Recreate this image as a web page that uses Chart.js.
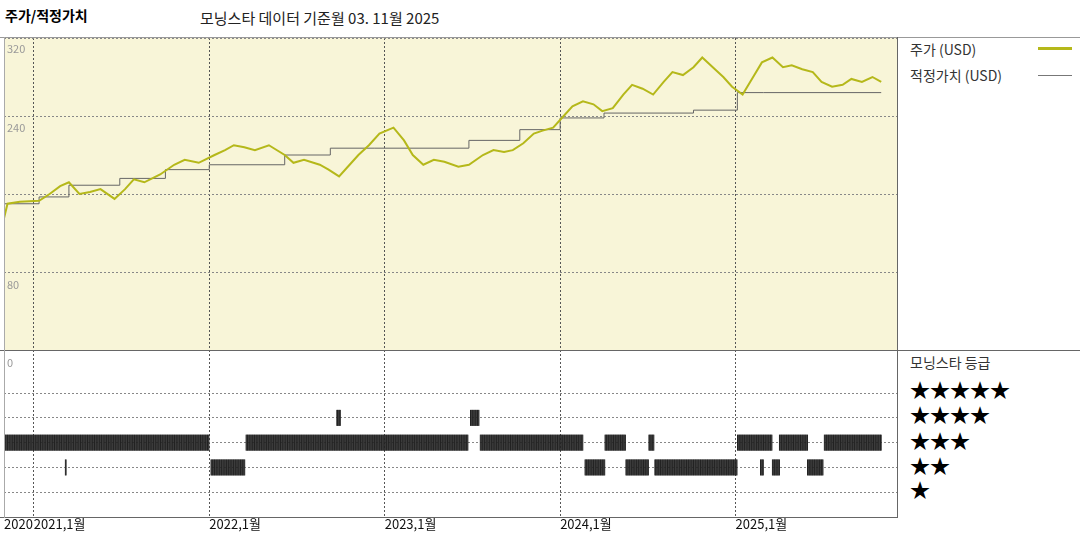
<!DOCTYPE html>
<html><head><meta charset="utf-8">
<script src="https://cdn.jsdelivr.net/npm/chart.js@4"></script>
<style>
body{margin:0;width:1080px;height:540px;background:#fff;font-family:"Noto Sans CJK KR",sans-serif;position:relative;overflow:hidden}
.t{position:absolute;white-space:nowrap}
#top{position:absolute;left:4px;top:38px;width:893px;height:312px}
#bot{position:absolute;left:4px;top:350px;width:893px;height:167px}
.ln{position:absolute;background:#666}
</style></head><body>
<div class="t" style="left:5px;top:5px;font-size:14px;font-weight:bold">주가/적정가치</div>
<div class="t" style="left:200px;top:7px;font-size:15px;color:#222">모닝스타 데이터 기준월 03. 11월 2025</div>
<div id="top"><canvas id="c1"></canvas></div>
<div id="bot"><canvas id="c2"></canvas></div>
<div class="ln" style="left:0;top:37px;width:1080px;height:1px;background:#999"></div>
<div class="ln" style="left:0;top:350px;width:1080px;height:1px"></div>
<div class="ln" style="left:0;top:517px;width:897px;height:1px"></div>
<div class="ln" style="left:897px;top:37px;width:1px;height:481px"></div>
<div class="ln" style="left:4px;top:37px;width:1px;height:481px;background:#aaa"></div>
<div class="t" style="left:7px;top:40px;font-size:11px;color:#999">320</div>
<div class="t" style="left:7px;top:119px;font-size:11px;color:#999">240</div>
<div class="t" style="left:7px;top:276px;font-size:11px;color:#999">80</div>
<div class="t" style="left:7px;top:354px;font-size:11px;color:#999">0</div>
<div class="t" style="left:910px;top:39px;font-size:14px;color:#333">주가 (USD)</div>
<div class="ln" style="left:1038px;top:47px;width:34px;height:3px;background:#b5b81a"></div>
<div class="t" style="left:910px;top:65px;font-size:14px;color:#333">적정가치 (USD)</div>
<div class="ln" style="left:1038px;top:75px;width:34px;height:1px;background:#777"></div>
<div class="t" style="left:910px;top:352px;font-size:14px;color:#333">모닝스타 등급</div>
<div class="t" style="left:910px;top:378px;font-size:20px;line-height:24px">★★★★★</div>
<div class="t" style="left:910px;top:403px;font-size:20px;line-height:24px">★★★★</div>
<div class="t" style="left:910px;top:429px;font-size:20px;line-height:24px">★★★</div>
<div class="t" style="left:910px;top:454px;font-size:20px;line-height:24px">★★</div>
<div class="t" style="left:910px;top:478px;font-size:20px;line-height:24px">★</div>
<div id="xl"></div>
<script>
const priceX=[2020.83,2020.85,2020.92,2021.03,2021.09,2021.15,2021.20,2021.26,2021.32,2021.38,2021.46,2021.52,2021.57,2021.63,2021.72,2021.80,2021.86,2021.94,2022.03,2022.09,2022.14,2022.20,2022.26,2022.34,2022.43,2022.48,2022.54,2022.63,2022.68,2022.74,2022.80,2022.85,2022.91,2022.97,2023.05,2023.11,2023.16,2023.22,2023.28,2023.34,2023.42,2023.48,2023.56,2023.62,2023.68,2023.73,2023.79,2023.85,2023.90,2023.96,2024.02,2024.07,2024.13,2024.19,2024.24,2024.30,2024.36,2024.41,2024.47,2024.53,2024.59,2024.64,2024.70,2024.76,2024.81,2024.87,2024.93,2024.98,2025.04,2025.10,2025.15,2025.21,2025.27,2025.32,2025.38,2025.44,2025.49,2025.55,2025.61,2025.66,2025.72,2025.78,2025.83];
const priceY=[135,150,152,153,160,168,172,160,162,165,155,165,175,172,180,190,195,192,200,205,210,208,205,210,200,192,195,190,185,178,190,200,210,222,228,215,200,190,195,193,188,190,200,205,203,205,212,222,225,228,240,250,255,252,245,248,262,272,268,262,275,285,282,290,300,290,280,270,262,280,295,300,290,292,288,285,275,270,272,278,275,280,275];
const fairX=[2020.83,2021.03,2021.20,2021.49,2021.75,2022.0,2022.43,2022.69,2022.94,2023.48,2023.77,2024.0,2024.25,2024.76,2025.01,2025.16,2025.83];
const fairY=[146,150,157,169,176,185,190,200,207,207,215,226,238,243,246,264,264];
const ratingSeg=[[2020.83,2022.0,3],[2021.18,2021.185,2],[2022.01,2022.205,2],[2022.21,2023.477,3],[2022.727,2022.75,4],[2023.489,2023.54,4],[2023.545,2024.13,3],[2024.142,2024.256,2],[2024.256,2024.375,3],[2024.375,2024.506,2],[2024.506,2024.534,3],[2024.54,2025.011,2],[2025.011,2025.21,3],[2025.142,2025.16,2],[2025.21,2025.25,2],[2025.25,2025.41,3],[2025.41,2025.50,2],[2025.506,2025.83,3]];
const yearTicks=[2021,2022,2023,2024,2025];
const xLabels=[[2020.83,"2020"],[2021,"2021,1월"],[2022,"2022,1월"],[2023,"2023,1월"],[2024,"2024,1월"],[2025,"2025,1월"]];
const XMIN=2020.83,XMAX=2025.92;
const xl=document.getElementById('xl');
xLabels.forEach(([v,s])=>{const d=document.createElement('div');d.className='t';d.style.cssText=`left:${4+(v-XMIN)/(XMAX-XMIN)*893}px;top:514px;font-size:13px;color:#111`;d.textContent=s;xl.appendChild(d);});
function xs(){return{type:'linear',min:XMIN,max:XMAX,border:{display:false,dash:[2,2]},grid:{color:'#555',lineWidth:1,drawTicks:false},ticks:{display:false},afterBuildTicks:a=>{a.ticks=yearTicks.map(v=>({value:v}))}};}
const bg={id:'bg',beforeDraw(c){if(!c.options.plugins.bgc)return;const a=c.chartArea,x=c.ctx;x.save();x.fillStyle=c.options.plugins.bgc;x.fillRect(a.left,a.top,a.width,a.height);x.restore();}};
const lay={padding:0,autoPadding:false};
new Chart(document.getElementById('c1'),{type:'line',plugins:[bg],data:{datasets:[
{data:priceX.map((x,i)=>({x,y:priceY[i]})),borderColor:'#b5b81a',borderWidth:2,pointRadius:0,tension:0},
{data:fairX.map((x,i)=>({x,y:fairY[i]})),borderColor:'#666',borderWidth:1,pointRadius:0,stepped:'after'}]},
options:{animation:false,responsive:true,maintainAspectRatio:false,layout:lay,plugins:{legend:{display:false},tooltip:{enabled:false},bgc:'#f8f5d8'},
scales:{x:xs(),y:{min:0,max:320,border:{display:false,dash:[2,2]},grid:{color:'#888',drawTicks:false},ticks:{display:false,stepSize:80}}}}});
const rpts=[];ratingSeg.forEach(([a,b,r])=>{for(let t=a;t<=b+1e-9;t+=0.004)rpts.push({x:t,y:r});});
new Chart(document.getElementById('c2'),{type:'scatter',data:{datasets:[{data:rpts,pointStyle:'line',rotation:90,radius:8,borderColor:'#222',borderWidth:1}]},
options:{animation:false,responsive:true,maintainAspectRatio:false,layout:lay,plugins:{legend:{display:false},tooltip:{enabled:false}},
scales:{x:xs(),y:{min:0,max:6.74,border:{display:false,dash:[2,2]},grid:{color:'#888',drawTicks:false},ticks:{display:false},afterBuildTicks:a=>{a.ticks=[1,2,3,4,5].map(v=>({value:v}))}}}}});
</script></body></html>
